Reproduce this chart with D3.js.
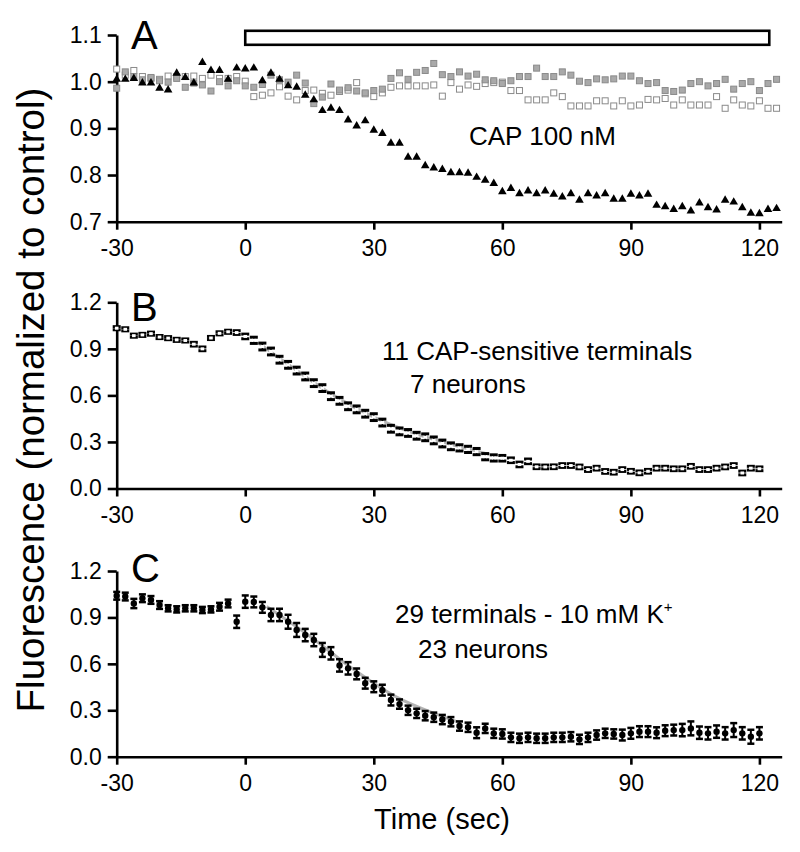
<!DOCTYPE html>
<html><head><meta charset="utf-8">
<script src="https://cdn.jsdelivr.net/npm/d3@7"></script>
<style>body{margin:0;background:#fff}svg{display:block}</style>
</head><body><svg id="c" width="800" height="852"></svg>
<script>
// ---------- DATA ----------
const timesA = [-30,-28,-26,-24,-22,-20,-18,-16,-14,-12,-10,-8,-6,-4,-2,0,2,4,6,8,10,12,14,16,18,20,22,24,26,28,30,32,34,36,38,40,42,44,46,48,50,52,54,56,58,60,62,64,66,68,70,72,74,76,78,80,82,84,86,88,90,92,94,96,98,100,102,104,106,108,110,112,114,116,118,120,122,124];
const capA = [1.005,1.005,1.007,0.997,0.997,0.986,0.982,1.018,1.009,0.997,1.041,1.024,1.024,1.005,1.029,1.027,1.029,1.002,1.018,1.005,0.991,0.988,0.971,0.961,0.938,0.943,0.938,0.918,0.905,0.916,0.896,0.889,0.868,0.868,0.838,0.838,0.820,0.815,0.812,0.805,0.805,0.804,0.795,0.789,0.782,0.764,0.771,0.760,0.766,0.760,0.766,0.759,0.753,0.760,0.746,0.760,0.755,0.760,0.748,0.748,0.759,0.755,0.759,0.735,0.732,0.726,0.732,0.723,0.740,0.730,0.725,0.746,0.742,0.730,0.718,0.717,0.726,0.728];
const ctrlFilledA = [0.986,1.021,1.011,1.004,1.009,1.002,0.999,1.007,0.988,0.997,0.993,0.980,1.000,0.991,1.002,0.991,0.988,0.994,1.014,1.004,0.999,1.014,0.997,0.953,0.967,0.995,0.982,0.987,0.980,0.976,0.981,0.984,1.007,1.019,1.005,1.020,1.024,1.039,1.015,1.011,1.021,1.012,1.016,1.004,1.002,0.996,1.002,1.011,1.011,1.029,1.011,1.011,1.021,1.014,1.001,0.998,1.006,1.004,1.006,1.012,1.012,1.002,0.996,0.998,0.981,0.979,0.982,0.996,1.000,0.991,0.996,1.005,0.984,0.996,1.000,0.981,0.996,1.005];
const ctrlOpenA = [1.027,1.014,1.024,1.011,1.007,1.005,1.012,1.011,1.011,1.012,1.007,1.014,1.007,1.007,1.011,1.001,0.968,0.971,0.976,0.989,0.969,0.961,0.981,0.982,0.975,0.971,0.979,0.982,0.998,0.974,0.968,0.976,0.988,0.991,0.991,0.991,0.991,0.993,0.969,0.998,0.984,0.993,0.990,0.996,0.998,0.999,0.981,0.981,0.961,0.961,0.961,0.976,0.968,0.948,0.948,0.948,0.959,0.959,0.948,0.959,0.948,0.950,0.962,0.961,0.964,0.950,0.961,0.950,0.950,0.950,0.968,0.943,0.961,0.950,0.948,0.959,0.943,0.943];
const stimA = [0, 122.3];

const timesBC = [-30,-28,-26,-24,-22,-20,-18,-16,-14,-12,-10,-8,-6,-4,-2,0,2,4,6,8,10,12,14,16,18,20,22,24,26,28,30,32,34,36,38,40,42,44,46,48,50,52,54,56,58,60,62,64,66,68,70,72,74,76,78,80,82,84,86,88,90,92,94,96,98,100,102,104,106,108,110,112,114,116,118,120];
const meanB = [1.033,1.026,0.985,0.990,0.998,0.976,0.969,0.958,0.954,0.930,0.900,0.970,1.000,1.010,1.005,0.980,0.955,0.915,0.883,0.830,0.797,0.760,0.722,0.679,0.647,0.595,0.565,0.530,0.510,0.482,0.460,0.425,0.385,0.368,0.358,0.340,0.330,0.310,0.290,0.272,0.262,0.252,0.238,0.205,0.197,0.195,0.182,0.155,0.175,0.140,0.139,0.140,0.148,0.148,0.139,0.122,0.131,0.110,0.105,0.122,0.111,0.101,0.111,0.131,0.131,0.127,0.127,0.143,0.122,0.122,0.131,0.139,0.148,0.100,0.131,0.127];
const errB = [0.01,0.01,0.01,0.01,0.01,0.01,0.01,0.01,0.01,0.012,0.012,0.01,0.01,0.01,0.012,0.015,0.02,0.022,0.022,0.022,0.022,0.022,0.022,0.022,0.022,0.022,0.022,0.022,0.022,0.022,0.022,0.022,0.022,0.022,0.022,0.022,0.022,0.022,0.022,0.022,0.02,0.02,0.02,0.02,0.02,0.018,0.015,0.015,0.015,0.012,0.012,0.012,0.012,0.012,0.012,0.012,0.012,0.012,0.012,0.012,0.012,0.012,0.012,0.012,0.012,0.012,0.012,0.012,0.012,0.012,0.012,0.012,0.012,0.012,0.012,0.012];
const fitB = [[3,0.94],[10,0.80],[20,0.61],[30,0.46],[40,0.35],[50,0.27],[57,0.22]];

const meanC = [1.040,1.035,0.990,1.024,1.013,0.980,0.959,0.952,0.959,0.959,0.948,0.952,0.969,0.990,0.872,1.002,1.000,0.965,0.916,0.916,0.872,0.819,0.786,0.754,0.690,0.668,0.590,0.571,0.535,0.475,0.452,0.430,0.366,0.340,0.300,0.280,0.265,0.255,0.240,0.226,0.198,0.190,0.155,0.183,0.151,0.147,0.125,0.119,0.125,0.119,0.119,0.125,0.125,0.129,0.112,0.125,0.140,0.151,0.147,0.140,0.151,0.162,0.162,0.155,0.168,0.172,0.172,0.183,0.155,0.151,0.162,0.151,0.172,0.151,0.129,0.151];
const errC = [0.025,0.025,0.03,0.025,0.025,0.025,0.02,0.02,0.02,0.02,0.02,0.02,0.025,0.025,0.04,0.04,0.035,0.035,0.04,0.04,0.045,0.045,0.04,0.04,0.045,0.04,0.04,0.04,0.035,0.035,0.035,0.035,0.035,0.03,0.03,0.03,0.03,0.03,0.03,0.03,0.03,0.03,0.035,0.03,0.03,0.03,0.03,0.03,0.03,0.03,0.03,0.03,0.03,0.03,0.03,0.03,0.03,0.03,0.03,0.035,0.035,0.035,0.035,0.035,0.035,0.035,0.04,0.045,0.04,0.04,0.04,0.04,0.045,0.04,0.045,0.04];
const fitC = [[5,0.97],[15,0.78],[25,0.57],[35,0.39],[45,0.27],[50,0.22]];

const xTicks = [-30,0,30,60,90,120];
const yTicksA = [0.7,0.8,0.9,1.0,1.1];
const yTicksBC = [0.0,0.3,0.6,0.9,1.2];

// ---------- DRAW ----------
const FONT = "'Liberation Sans', Arial, Helvetica, sans-serif";
const svg = d3.select("#c");
const x = d3.scaleLinear().domain([-30,125.2]).range([116.7,781.7]);
const yA = d3.scaleLinear().domain([0.7,1.1]).range([221.7,35]);
const yB = d3.scaleLinear().domain([0,1.2]).range([488.5,302.3]);
const yC = d3.scaleLinear().domain([0,1.2]).range([756.7,571]);
const fmtX = d => String(d);           // plain hyphen-minus like the reference
const fmtY = d => d.toFixed(1);

function axes(y, ticks){
  const gx = svg.append("g").attr("transform",`translate(0,${y.range()[0]})`)
    .call(d3.axisBottom(x).tickValues(xTicks).tickSizeInner(8).tickSizeOuter(0).tickPadding(10).tickFormat(fmtX));
  const gy = svg.append("g").attr("transform",`translate(${x.range()[0]},0)`)
    .call(d3.axisLeft(y).tickValues(ticks).tickSizeInner(9).tickSizeOuter(0).tickPadding(6).tickFormat(fmtY));
  [gx,gy].forEach(g=>{
    g.select(".domain").attr("stroke","#000").attr("stroke-width",2.6);
    g.selectAll(".tick line").attr("stroke","#000").attr("stroke-width",2.6);
    g.selectAll(".tick text").attr("fill","#000").style("font-family",FONT).style("font-size","23px");
  });
}
axes(yA, yTicksA);
axes(yB, yTicksBC);
axes(yC, yTicksBC);

// Panel A
svg.append("rect").attr("x",x(stimA[0])).attr("width",x(stimA[1])-x(stimA[0]))
  .attr("y",yA(1.109)).attr("height",yA(1.079)-yA(1.109))
  .attr("fill","#fff").attr("stroke","#000").attr("stroke-width",2.6);

const dA = timesA.map((t,i)=>({t, cap:capA[i], f:ctrlFilledA[i], o:ctrlOpenA[i]}));
svg.append("g").selectAll("rect").data(dA).join("rect")
  .attr("x",d=>x(d.t)-3).attr("y",d=>yA(d.o)-3).attr("width",6).attr("height",6)
  .attr("fill","#fff").attr("stroke","#8a8a8a").attr("stroke-width",1);
svg.append("g").selectAll("rect").data(dA).join("rect")
  .attr("x",d=>x(d.t)-3).attr("y",d=>yA(d.f)-3).attr("width",6).attr("height",6)
  .attr("fill","#a9a9a9").attr("stroke","#8a8a8a").attr("stroke-width",1);
const tri = d3.symbol().type(d3.symbolTriangle).size(32);
svg.append("g").selectAll("path").data(dA).join("path")
  .attr("d",tri).attr("transform",d=>`translate(${x(d.t)},${yA(d.cap)})`).attr("fill","#000");

// Panel B
const dB = timesBC.map((t,i)=>({t, m:meanB[i], e:errB[i]}));
svg.append("path").datum(fitB).attr("d",d3.line().x(d=>x(d[0])).y(d=>yB(d[1])).curve(d3.curveMonotoneX))
  .attr("fill","none").attr("stroke","#b4b4b4").attr("stroke-width",3);
const gB = svg.append("g").selectAll("g").data(dB).join("g");
gB.append("line").attr("x1",d=>x(d.t)).attr("x2",d=>x(d.t)).attr("y1",d=>yB(d.m+d.e)).attr("y2",d=>yB(d.m-d.e)).attr("stroke","#000").attr("stroke-width",1.5);
gB.append("line").attr("x1",d=>x(d.t)-4).attr("x2",d=>x(d.t)+4).attr("y1",d=>yB(d.m+d.e)).attr("y2",d=>yB(d.m+d.e)).attr("stroke","#000").attr("stroke-width",3);
gB.append("line").attr("x1",d=>x(d.t)-4).attr("x2",d=>x(d.t)+4).attr("y1",d=>yB(d.m-d.e)).attr("y2",d=>yB(d.m-d.e)).attr("stroke","#000").attr("stroke-width",3);
gB.append("rect").attr("x",d=>x(d.t)-1.8).attr("y",d=>yB(d.m)-1.5).attr("width",3.6).attr("height",3).attr("fill","#fff").attr("stroke","none");

// Panel C
const dC = timesBC.map((t,i)=>({t, m:meanC[i], e:errC[i]}));
svg.append("path").datum(fitC).attr("d",d3.line().x(d=>x(d[0])).y(d=>yC(d[1])).curve(d3.curveMonotoneX))
  .attr("fill","none").attr("stroke","#b4b4b4").attr("stroke-width",3);
const gC = svg.append("g").selectAll("g").data(dC).join("g");
gC.append("line").attr("x1",d=>x(d.t)).attr("x2",d=>x(d.t)).attr("y1",d=>yC(d.m+d.e)).attr("y2",d=>yC(d.m-d.e)).attr("stroke","#000").attr("stroke-width",2);
gC.append("line").attr("x1",d=>x(d.t)-3.5).attr("x2",d=>x(d.t)+3.5).attr("y1",d=>yC(d.m+d.e)).attr("y2",d=>yC(d.m+d.e)).attr("stroke","#000").attr("stroke-width",2.5);
gC.append("line").attr("x1",d=>x(d.t)-3.5).attr("x2",d=>x(d.t)+3.5).attr("y1",d=>yC(d.m-d.e)).attr("y2",d=>yC(d.m-d.e)).attr("stroke","#000").attr("stroke-width",2.5);
gC.append("circle").attr("cx",d=>x(d.t)).attr("cy",d=>yC(d.m)).attr("r",3.2).attr("fill","#000");

// Texts
function txt(xp,yp,s,size,anchor){
  return svg.append("text").attr("x",xp).attr("y",yp).attr("text-anchor",anchor||"start")
    .style("font-family",FONT).style("font-size",size+"px").attr("fill","#000").text(s);
}
txt(131,49,"A",40); txt(131,321,"B",40); txt(131,582,"C",40);
txt(469,145,"CAP 100 nM",26);
txt(382,360,"11 CAP-sensitive terminals",26);
txt(410,393,"7 neurons",26);
const kt = txt(395,623,"29 terminals - 10 mM K",26);
kt.append("tspan").attr("dy",-11).style("font-size","15px").text("+");
txt(418,658,"23 neurons",26);
txt(442,829,"Time (sec)",29,"middle");
svg.append("text").attr("transform","translate(44,400) rotate(-90)").attr("text-anchor","middle")
  .style("font-family",FONT).style("font-size","38.5px").attr("fill","#000").text("Fluorescence (normalized to control)");
</script></body></html>
